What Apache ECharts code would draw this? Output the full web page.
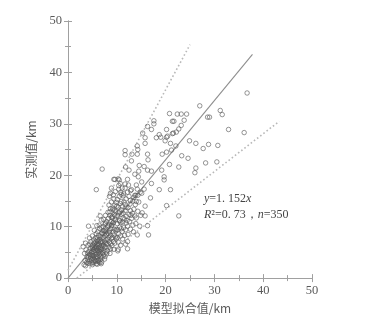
<!DOCTYPE html>
<html><head><meta charset="utf-8">
<script src="https://cdn.jsdelivr.net/npm/echarts@6/dist/echarts.min.js"></script>
<style>html,body{margin:0;padding:0;background:#fff;}#c{width:385px;height:319px;}</style>
</head><body><div id="c"></div>
<script>
// axis ticks
const axisMin = 0, axisMax = 50, axisStep = 10;
const xAxisTitle = '模型拟合值/km';
const yAxisTitle = '实测值/km';
// regression line y = 1.152x endpoints (model value, measured value)
const fitLineX = [0, 37.8];
const fitLineY = [0, 43.5];
// dotted bounds
const upperBoundX = [0, 25.0];
const upperBoundY = [1.5, 45.4];
const lowerBoundX = [1.8, 43.3];
const lowerBoundY = [0, 30.5];
// observations: [model fitted value, measured value] (km)
const sparsePoints = [[36.7,36.0],[27.0,33.5],[31.2,32.6],[31.6,31.8],[28.6,31.3],[29.0,31.3],[32.9,28.9],[36.1,28.3],[30.7,25.8],[30.5,22.6],[28.8,26.0],[27.7,25.2],[28.2,22.4],[26.2,21.4],[26.0,20.5],[24.9,26.7],[26.2,26.2],[24.6,23.3],[23.3,23.8],[22.7,21.6],[22.7,12.1],[20.8,32.0],[22.4,31.9],[23.2,31.9],[24.3,31.9],[21.4,30.5],[21.7,30.5],[23.2,29.7],[23.8,30.7],[22.7,29.0],[22.2,28.4],[21.4,28.1],[21.6,28.2],[20.2,28.9],[18.7,27.9],[19.0,27.4],[17.6,30.6],[17.6,30.0],[16.3,29.5],[17.1,28.9],[15.3,28.2],[15.8,27.3],[18.1,27.3],[15.8,26.2],[19.9,26.7],[20.2,27.4],[20.4,27.6],[21.0,26.2],[22.1,25.7],[21.2,24.9],[20.2,24.5],[19.3,24.1],[19.2,21.0],[19.7,19.7],[19.7,19.1],[20.8,22.1],[21.0,17.2],[18.7,17.2],[17.1,20.8],[16.3,24.1],[16.4,23.0],[14.2,25.7],[14.3,25.0],[14.2,24.1],[13.1,24.1],[11.7,24.8],[11.7,24.0],[13.0,22.8],[14.6,21.9],[14.5,20.8],[15.6,21.7],[16.3,21.0],[13.7,20.2],[14.4,19.7],[15.1,18.7],[17.1,18.4],[16.9,15.6],[15.6,17.3],[15.1,16.5],[15.8,14.0],[15.8,12.1],[16.3,10.2],[16.5,8.4],[20.2,14.1],[11.8,21.6],[12.2,19.2],[12.5,21.0],[9.6,19.2],[10.3,19.3],[10.7,18.4],[11.7,17.5],[8.9,17.5],[8.7,16.5],[7.0,21.2],[5.8,17.2],[13.0,17.2],[13.7,16.1],[14.0,18.1],[12.8,15.1],[14.0,14.9]];
const midPoints = [[9.4,19.2],[10.5,19.1],[8.5,15.9],[9.4,15.4],[10.4,17.3],[10.8,16.7],[11.1,17.5],[11.4,16.4],[12.2,16.7],[12.8,17.0],[12.5,15.9],[13.5,15.7],[13.9,16.1],[14.3,16.1],[10.9,14.9],[11.7,14.3],[11.9,13.8],[10.0,14.0],[9.2,13.3],[8.6,12.9],[10.4,12.7],[10.9,12.4],[9.6,12.1],[11.3,11.7],[10.6,11.1],[9.2,10.7],[7.7,10.7],[8.2,10.2],[6.6,12.1],[6.8,11.3],[5.9,10.2],[7.2,9.2],[8.5,8.9],[9.9,9.5],[11.6,8.3],[12.3,8.5],[10.3,7.0],[10.3,5.6],[12.2,5.7],[12.2,7.1],[12.8,9.5],[13.3,10.3],[14.0,11.7],[14.3,13.0],[14.7,10.1],[15.2,12.7],[14.2,8.4],[13.0,11.6],[11.9,10.7]];
const densePoints = [[3.3,2.6],[3.6,2.4],[3.8,3.0],[3.5,3.4],[3.9,4.2],[3.4,4.8],[3.7,5.5],[4.0,3.6],[3.1,6.1],[3.6,6.8],
[4.1,2.9],[4.3,3.3],[4.5,2.8],[4.2,4.0],[4.4,4.6],[4.6,3.9],[4.8,3.5],[4.9,4.4],[4.3,5.2],[4.6,5.8],[4.8,5.0],[4.1,6.4],[4.5,6.6],[4.9,6.2],[4.7,7.1],[4.4,7.8],[4.2,10.1],[4.9,3.0],[4.6,4.3],[4.0,4.9],
[5.0,2.6],[5.2,3.1],[5.5,3.4],[5.8,2.8],[5.1,3.9],[5.3,4.3],[5.6,4.0],[5.9,3.7],[5.0,4.7],[5.4,5.0],[5.7,4.6],[5.9,5.3],[5.2,5.6],[5.5,5.9],[5.8,6.1],[5.1,6.4],[5.4,6.8],[5.7,7.0],[5.9,6.6],[5.3,7.4],[5.6,7.8],[5.0,8.2],[5.8,8.6],[5.4,9.3],[5.2,5.2],[5.6,5.4],[5.9,4.2],[5.3,3.6],[5.7,3.2],[5.5,6.3],[5.0,5.9],[5.9,7.4],[5.1,4.4],[5.8,5.8],
[6.0,2.7],[6.3,3.2],[6.6,3.6],[6.9,3.1],[6.1,4.1],[6.4,4.5],[6.7,4.2],[6.2,4.9],[6.5,5.2],[6.8,4.9],[6.0,5.5],[6.3,5.8],[6.6,6.0],[6.9,5.6],[6.1,6.3],[6.4,6.6],[6.7,6.9],[6.2,7.2],[6.5,7.5],[6.8,7.1],[6.0,7.9],[6.3,8.3],[6.7,8.0],[6.9,8.7],[6.1,9.0],[6.5,9.6],[6.4,10.3],[6.8,9.9],[6.2,3.5],[6.6,4.7],[6.9,6.3],[6.3,5.3],[6.7,5.5],[6.0,6.7],[6.5,3.0],[6.8,2.8],
[7.0,4.0],[7.3,4.5],[7.6,4.2],[7.1,5.0],[7.4,5.4],[7.8,5.1],[7.0,5.9],[7.3,6.3],[7.6,6.0],[7.9,6.6],[7.1,6.9],[7.5,7.2],[7.8,7.5],[7.2,7.9],[7.6,8.2],[7.9,8.5],[7.0,8.8],[7.4,9.2],[7.7,9.6],[7.2,10.0],[7.6,10.5],[7.9,11.0],[7.3,11.4],[7.7,12.2],[7.5,3.7],[7.9,4.7],[7.2,6.5],[7.7,6.9],[7.4,8.6],[7.8,9.1],
[8.1,5.4],[8.4,6.0],[8.7,5.7],[8.2,6.6],[8.5,7.0],[8.8,6.7],[8.1,7.5],[8.4,7.9],[8.7,8.3],[8.9,7.7],[8.2,8.7],[8.5,9.2],[8.8,9.6],[8.1,10.0],[8.4,10.5],[8.8,11.0],[8.3,11.6],[8.6,12.2],[8.9,11.8],[8.2,12.8],[8.7,13.5],[8.4,14.2],[8.9,14.8],[8.6,4.8],[8.9,10.2],
[9.0,6.3],[9.3,7.1],[9.6,6.8],[9.1,7.9],[9.4,8.4],[9.7,8.0],[9.2,9.0],[9.5,9.5],[9.8,9.2],[9.0,10.3],[9.3,10.8],[9.7,11.3],[9.1,11.7],[9.5,12.4],[9.8,12.9],[9.2,13.6],[9.6,14.2],[9.9,14.7],[9.3,16.2],[9.7,16.8],[9.4,5.6],[9.9,7.6],[9.1,12.0],[9.6,13.2],
[10.1,7.9],[10.4,8.6],[10.8,8.2],[10.2,9.4],[10.6,9.9],[10.9,9.6],[10.1,10.6],[10.5,11.2],[10.8,10.8],[10.2,12.1],[10.6,12.9],[10.9,13.3],[10.3,13.8],[10.7,14.5],[10.1,15.3],[10.5,15.9],[10.9,16.3],[10.4,18.0],[10.8,6.4],[10.2,5.3],
[11.1,9.1],[11.4,9.8],[11.8,9.4],[11.2,10.9],[11.6,11.5],[11.9,12.0],[11.3,12.6],[11.7,13.1],[11.1,13.9],[11.5,14.8],[11.9,15.4],[11.3,16.0],[11.7,18.3],[11.2,7.6],[11.8,6.6],
[12.1,11.2],[12.5,12.4],[12.8,13.1],[12.3,13.7],[12.7,14.4],[12.2,10.1],[12.6,11.0],[12.9,12.2],[12.4,18.1],
[13.2,12.6],[13.5,13.4],[13.8,14.3],[13.3,15.0],[13.7,12.1],[13.4,9.0],[13.9,10.6],
[14.5,14.8],[14.8,16.7],[14.2,17.3],[14.9,12.2]];

const zip = (xs, ys) => xs.map((x, i) => [x, ys[i]]);
const serif = '"Liberation Serif", "DejaVu Serif", serif';
const axisColor = '#a0a0a0';
const labelColor = '#5a5a5a';

function makeAxis(pos, showLabel, name, nameGap, rot) {
  return {
    type: 'value', position: pos, min: axisMin, max: axisMax, interval: axisStep,
    name: showLabel ? name : '', nameLocation: 'middle', nameGap: nameGap, nameRotate: rot,
    nameTextStyle: {fontFamily: '"Noto Sans CJK SC", ' + serif, fontSize: 12, color: labelColor},
    axisLine: {show: true, lineStyle: {color: axisColor, width: 1}},
    axisTick: {show: true, inside: true, length: 4, lineStyle: {color: axisColor}},
    minorTick: {show: true, splitNumber: 2, length: 3, lineStyle: {color: axisColor}},
    axisLabel: {show: showLabel, fontFamily: serif, fontSize: 12.5, color: labelColor, margin: 6},
    splitLine: {show: false}
  };
}

const chart = echarts.init(document.getElementById('c'), null, {renderer: 'canvas'});
const markerStyle = {color: 'rgba(0,0,0,0)', borderColor: '#585858', borderWidth: 0.8};
chart.setOption({
  backgroundColor: '#fff',
  animation: false,
  grid: {left: 68, right: 73, top: 21, bottom: 36},
  xAxis: [makeAxis('bottom', true, xAxisTitle, 22, 0), makeAxis('top', false, '', 0, 0)],
  yAxis: [makeAxis('left', true, yAxisTitle, 31, 90), makeAxis('right', false, '', 0, 0)],
  series: [
    {type: 'line', data: zip(upperBoundX, upperBoundY), showSymbol: false, symbol: 'none',
     lineStyle: {color: '#b8b8b8', width: 1.6, type: [1.6, 2.4]}, z: 1},
    {type: 'line', data: zip(lowerBoundX, lowerBoundY), showSymbol: false, symbol: 'none',
     lineStyle: {color: '#b8b8b8', width: 1.6, type: [1.6, 2.4]}, z: 1},
    {type: 'line', data: zip(fitLineX, fitLineY), showSymbol: false, symbol: 'none',
     lineStyle: {color: '#8e8e8e', width: 1.1}, z: 2},
    {type: 'scatter', data: sparsePoints.concat(midPoints, densePoints), symbol: 'circle', symbolSize: 4.5,
     itemStyle: markerStyle, z: 3}
  ],
  graphic: [
    {type: 'text', left: 204, top: 193, style: {
      text: '{i|y}{n|=1. 152}{i|x}', rich: {
        i: {fontFamily: serif, fontStyle: 'italic', fontSize: 12, fill: '#444', color: '#444'},
        n: {fontFamily: serif, fontSize: 12, fill: '#444', color: '#444'}}}},
    {type: 'text', left: 204, top: 209, style: {
      text: '{i|R}{n|²=0. 73，}{i|n}{n|=350}', rich: {
        i: {fontFamily: serif, fontStyle: 'italic', fontSize: 12, fill: '#444', color: '#444'},
        n: {fontFamily: serif, fontSize: 12, fill: '#444', color: '#444'}}}}
  ]
});
</script></body></html>
